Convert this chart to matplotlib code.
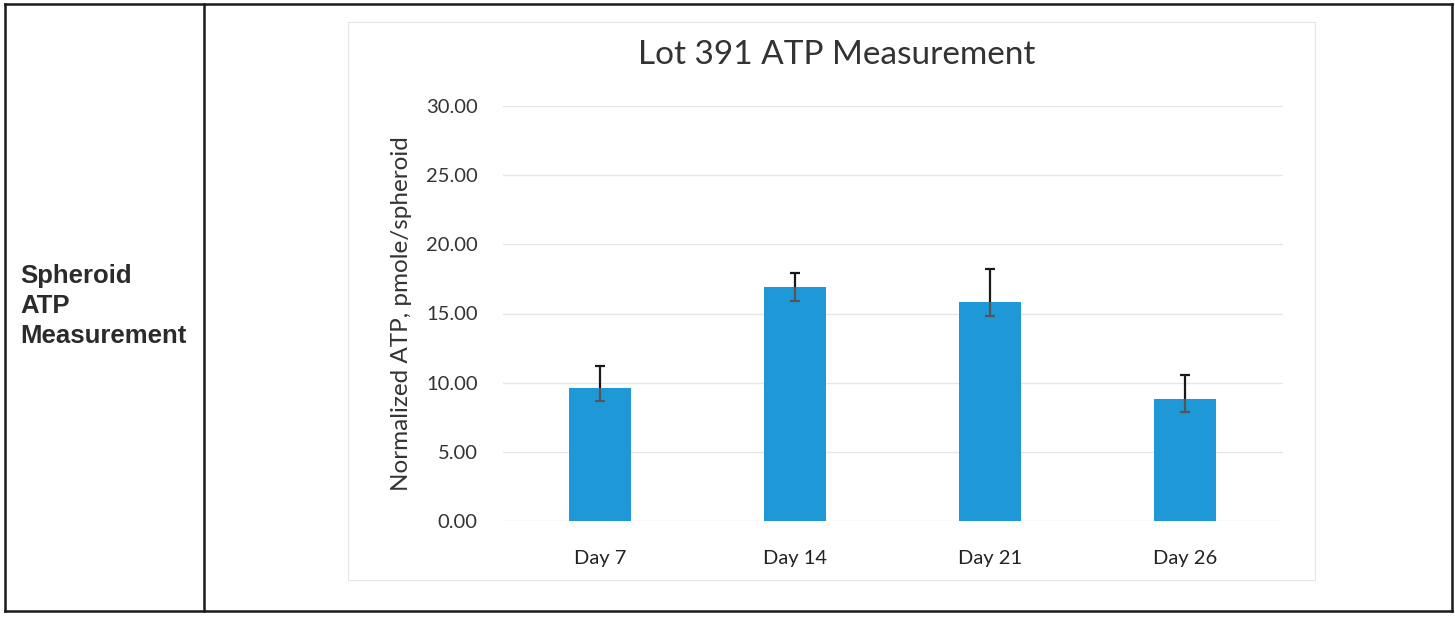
import matplotlib
matplotlib.use("Agg")
import matplotlib.pyplot as plt
from matplotlib.lines import Line2D
from matplotlib.patches import Rectangle
import numpy as np

# ---- data ----
categories = ["Day 7", "Day 14", "Day 21", "Day 26"]
atp_values = [9.65, 16.9, 15.8, 8.85]
err_upper = [1.55, 1.0, 2.45, 1.7]
err_lower = [1.0, 1.0, 1.0, 1.0]
y_ticks = [0, 5, 10, 15, 20, 25, 30]

W, H = 1455, 624
fig = plt.figure(figsize=(W / 100, H / 100), dpi=100)
fig.patch.set_facecolor("white")

def fx(px):
    return px / W

def fy(py):
    return 1 - py / H

# table borders
lw_tab = 1.8
for (x0, y0, x1, y1) in [(5, 4, 1452, 4), (5, 611, 1452, 611),
                         (5, 4, 5, 611), (1452, 4, 1452, 611),
                         (204, 4, 204, 611)]:
    fig.add_artist(Line2D([fx(x0), fx(x1)], [fy(y0), fy(y1)],
                          color="#1a1a1a", lw=lw_tab, transform=fig.transFigure))

# chart area border
fig.add_artist(Rectangle((fx(348), fy(580)), fx(1315) - fx(348), fy(22) - fy(580),
                         transform=fig.transFigure, fill=False,
                         edgecolor="#e4e4e4", lw=0.8))

# left cell label
fig.text(fx(20), fy(306), "Spheroid\nATP\nMeasurement", ha="left", va="center",
         fontsize=18.5, fontweight="bold", family="Liberation Sans",
         color="#2b2b2b", linespacing=1.32)

# axes
ax = fig.add_axes([fx(502.5), fy(521), fx(1282.5) - fx(502.5), fy(106) - fy(521)])
x = np.arange(len(categories))
vals = np.array(atp_values)
up = vals + np.array(err_upper)
lo = vals - np.array(err_lower)
ax.bar(x, vals, width=0.32, color="#1E98D6", zorder=2)
cap = 0.028
ax.vlines(x, vals, up, color="#1a1a1a", lw=1.6, zorder=3)
ax.hlines(up, x - cap, x + cap, color="#1a1a1a", lw=1.6, zorder=3)
ax.vlines(x, lo, vals, color="#555555", lw=1.6, zorder=3)
ax.hlines(lo, x - cap, x + cap, color="#555555", lw=1.6, zorder=3)
ax.set_xlim(-0.5, len(categories) - 0.5)
ax.set_ylim(0, 30)
ax.set_yticks(y_ticks)
ax.set_yticklabels([f"{v:.2f}" for v in y_ticks], family="Lato", fontsize=14.5, color="#333333")
ax.set_xticks(x)
ax.set_xticklabels(categories, family="Lato", fontsize=14.5, color="#222222")
ax.tick_params(axis="x", length=0, pad=21)
ax.tick_params(axis="y", length=0, pad=18)
ax.grid(axis="y", color="#e6e6e6", lw=1.0, zorder=0)
for s in ax.spines.values():
    s.set_visible(False)
ax.set_ylabel("Normalized ATP, pmole/spheroid", family="Lato", fontsize=17.5,
              color="#333333", labelpad=10)

fig.text(fx(837), fy(55), "Lot 391 ATP Measurement", ha="center", va="center",
         family="Lato", fontsize=24, color="#333333")

fig.savefig("out.png", dpi=100, facecolor="white")
